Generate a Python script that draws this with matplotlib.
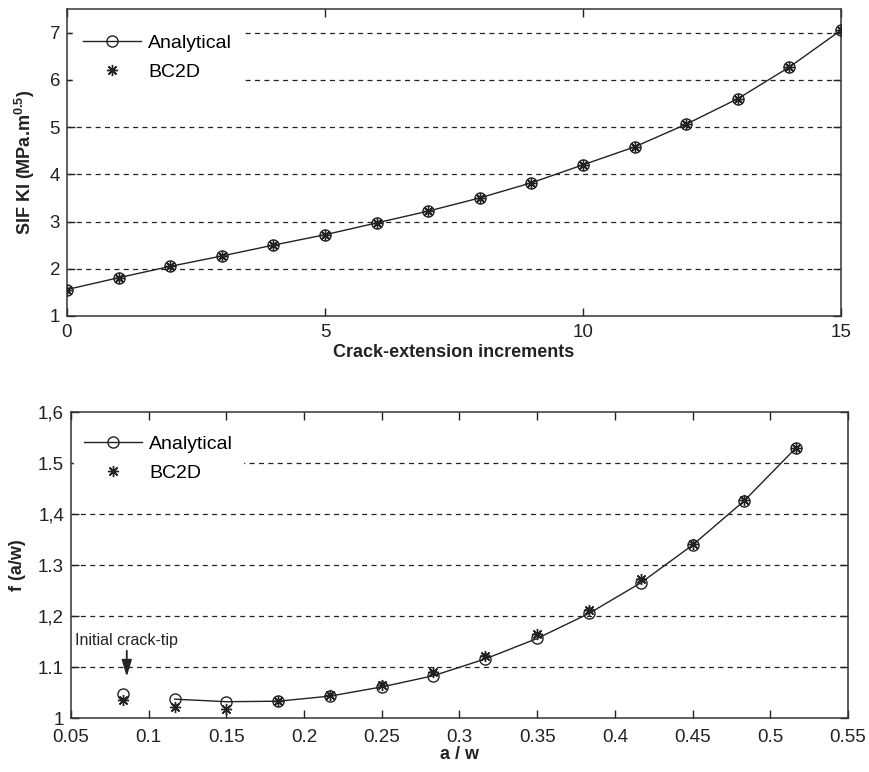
import matplotlib
matplotlib.use("Agg")
import matplotlib.pyplot as plt
import numpy as np

plt.rcParams["font.family"] = ["Liberation Sans", "DejaVu Sans"]
plt.rcParams["mathtext.fontset"] = "custom"
plt.rcParams["mathtext.rm"] = "Liberation Sans"
plt.rcParams["mathtext.bf"] = "Liberation Sans:bold"

# top panel: SIF vs crack-extension increment
inc = np.arange(16)
sif_analytical = [1.56, 1.81, 2.05, 2.27, 2.50, 2.72, 2.97, 3.22, 3.50, 3.82,
                  4.20, 4.58, 5.06, 5.60, 6.27, 7.05]
sif_bc2d = [1.56, 1.81, 2.05, 2.27, 2.50, 2.72, 2.97, 3.22, 3.50, 3.82,
            4.20, 4.58, 5.06, 5.60, 6.27, 7.05]

# bottom panel: geometry factor vs a/w
aw = [0.0833, 0.1167, 0.1500, 0.1833, 0.2167, 0.2500, 0.2833, 0.3167, 0.3500,
      0.3833, 0.4167, 0.4500, 0.4833, 0.5167]
f_analytical = [1.048, 1.037, 1.032, 1.033, 1.043, 1.061, 1.083, 1.116, 1.156,
                1.205, 1.265, 1.339, 1.426, 1.530]
f_bc2d = [1.035, 1.021, 1.018, 1.033, 1.045, 1.064, 1.091, 1.122, 1.164,
          1.212, 1.272, 1.341, 1.427, 1.530]
f_ticks = [1.0, 1.1, 1.2, 1.3, 1.4, 1.5, 1.6]
f_ticklabels = ["1", "1.1", "1,2", "1.3", "1,4", "1.5", "1,6"]

INK = "#222222"
ASTER = (8, 2, 0)
FS = 13.5


def _style(ax, xpad=6):
    ax.tick_params(direction="in", top=True, right=True, length=6, width=1,
                   labelsize=FS, colors=INK)
    ax.tick_params(axis="x", pad=xpad)
    ax.tick_params(axis="y", pad=5)
    for s in ax.spines.values():
        s.set_linewidth(1.1)
        s.set_color("#333333")
    ax.grid(False)


def _hgrid(ax, levels):
    for y in levels:
        ax.axhline(y, color=INK, lw=0.9, ls=(0, (4, 3.5)), zorder=0.5)


def _legend(ax, dx, dy):
    leg = ax.legend(loc="upper left", bbox_to_anchor=(dx, 1 - dy),
                    frameon=True, fontsize=14, handlelength=3.0,
                    handletextpad=0.35, borderaxespad=0, labelspacing=0.6,
                    borderpad=0.5)
    leg.get_frame().set_facecolor("white")
    leg.get_frame().set_edgecolor("white")
    leg.get_frame().set_alpha(1)
    leg.set_zorder(5)


fig = plt.figure(figsize=(8.69, 7.72), dpi=100)

# ---- top ----
ax1 = fig.add_axes([0.0771, 0.5907, 0.8907, 0.3977])
_hgrid(ax1, [2, 3, 4, 5, 6, 7])
ax1.plot(inc, sif_analytical, color=INK, lw=1.0, marker="o", ms=8,
         mfc="none", mec=INK, mew=1.0, label="Analytical", zorder=3)
ax1.plot(inc, sif_bc2d, ls="none", marker=ASTER, ms=8, color=INK, mew=1.0,
         label="BC2D", zorder=4)
ax1.set_xlim(0, 15)
ax1.set_ylim(1, 7.5)
ax1.set_xticks([0, 5, 10, 15])
ax1.set_yticks([1, 2, 3, 4, 5, 6, 7])
_style(ax1)
ax1.set_xlabel("Crack-extension increments", fontsize=13, fontweight="bold",
               color=INK, labelpad=2)
ax1.set_ylabel(r"SIF KI (MPa.m$^{\mathbf{0.5}}$)", fontsize=13,
               fontweight="bold", color=INK)
ax1.yaxis.set_label_coords(-0.039, 0.5)
_legend(ax1, 0.008, 0.05)

# ---- bottom ----
ax2 = fig.add_axes([0.0817, 0.0699, 0.894, 0.3964])
_hgrid(ax2, [1.1, 1.2, 1.3, 1.4, 1.5])
ax2.plot(aw[1:], f_analytical[1:], color=INK, lw=1.0, marker="o", ms=8,
         mfc="none", mec=INK, mew=1.0, label="Analytical", zorder=3)
ax2.plot(aw[:1], f_analytical[:1], ls="none", marker="o", ms=8,
         mfc="none", mec=INK, mew=1.0, zorder=3)
ax2.plot(aw, f_bc2d, ls="none", marker=ASTER, ms=8, color=INK, mew=1.0,
         label="BC2D", zorder=4)
ax2.set_xlim(0.05, 0.55)
ax2.set_ylim(1.0, 1.6)
ax2.set_xticks(np.arange(0.05, 0.551, 0.05))
ax2.set_xticklabels(["0.05", "0.1", "0.15", "0.2", "0.25", "0.3", "0.35",
                     "0.4", "0.45", "0.5", "0.55"])
ax2.set_yticks(f_ticks)
ax2.set_yticklabels(f_ticklabels)
_style(ax2, xpad=8)
ax2.set_xlabel("a / w", fontsize=13, fontweight="bold", color=INK, labelpad=0)
ax2.set_ylabel("f (a/w)", fontsize=13, fontweight="bold", color=INK)
ax2.yaxis.set_label_coords(-0.058, 0.5)
_legend(ax2, 0.004, 0.044)

ax2.text(0.0526, 1.153, "Initial crack-tip", fontsize=11.5, color=INK,
         ha="left", va="center")
ax2.annotate("", xy=(0.0859, 1.081), xytext=(0.0859, 1.132),
             arrowprops=dict(arrowstyle="-|>,head_length=1.0,head_width=0.3",
                             color=INK, lw=1.3, shrinkA=0, shrinkB=0))

fig.savefig("out.png", dpi=100)
